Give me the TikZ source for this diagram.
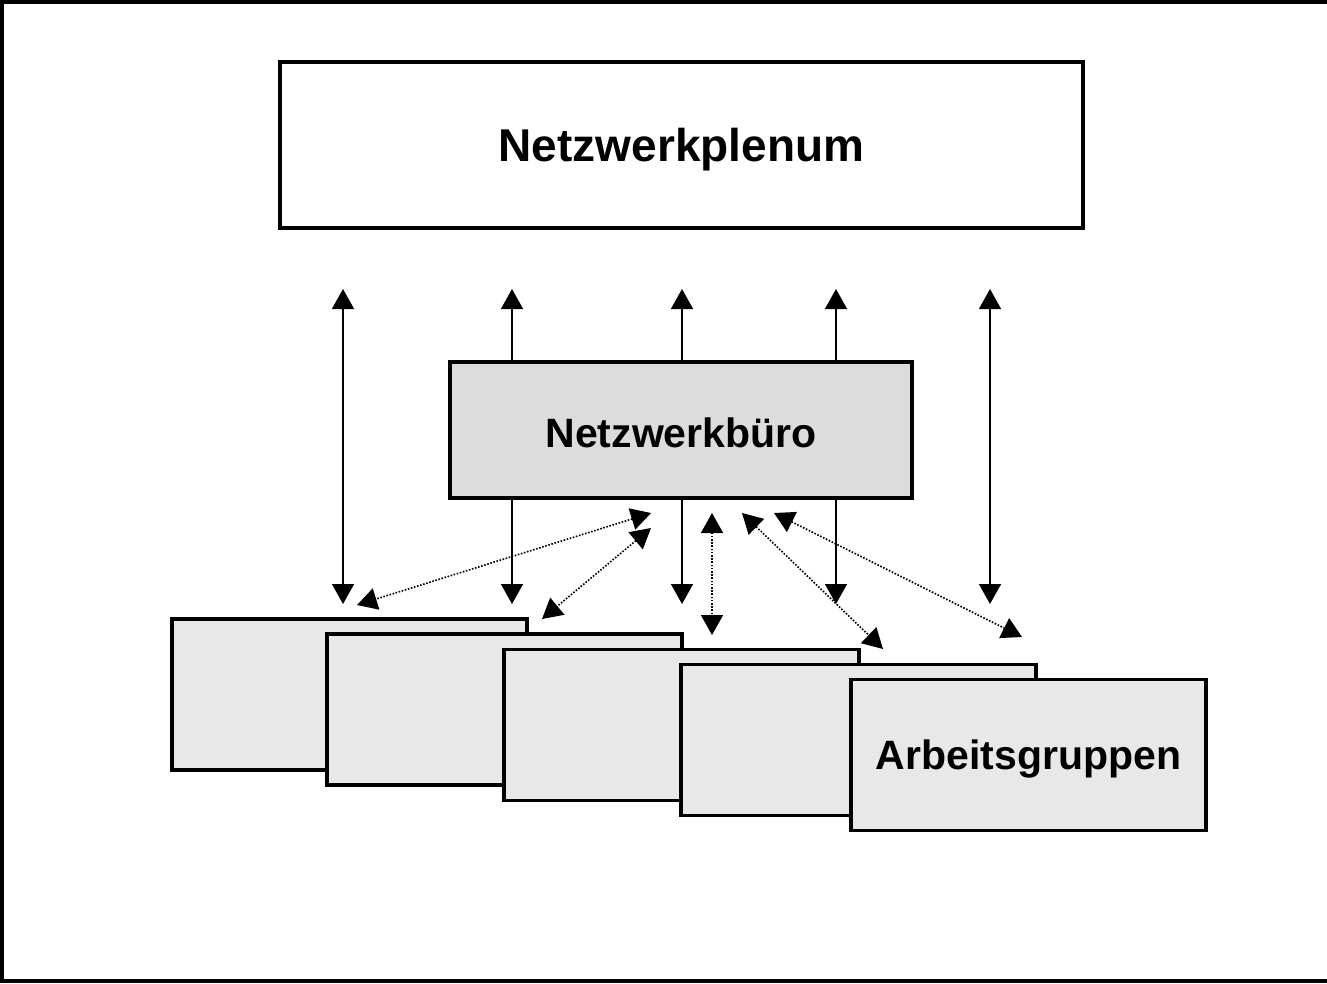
\documentclass[tikz,border=0pt]{standalone}
\usepackage{fontspec}
\setmainfont{Liberation Sans}
\usetikzlibrary{arrows.meta}
\definecolor{buerofill}{HTML}{DCDCDC}
\definecolor{agfill}{HTML}{E8E8E8}
\newcommand{\lowertext}[2]{\raisebox{-#1}[\height][\depth]{#2}}
\tikzset{
  box/.style={draw=black, line width=3.4pt, inner sep=0pt, outer sep=0pt},
  agbox/.style={box, fill=agfill, minimum width=355pt, minimum height=151pt},
  tip/.tip={Triangle[length=20pt,width=22pt]},
  solidarrow/.style={line width=1.5pt, -tip},
  solidboth/.style={line width=1.5pt, tip-tip},
  dotboth/.style={line width=1.6pt, dash pattern=on 1.6pt off 1.6pt, tip-tip},
  frame/.style={line width=4.5pt}
}
\begin{document}
\begin{tikzpicture}[x=1pt,y=-1pt]
\useasboundingbox (0,0) rectangle (1327,983);
% outer frame (no right side visible)
\draw[frame] (1330,2) -- (2,2) -- (2,981) -- (1330,981);

% top box
\node[box, fill=white, minimum width=803pt, minimum height=166pt] (plenum) at (681.5,145)
  {\lowertext{5pt}{\fontsize{46}{50}\selectfont\bfseries Netzwerkplenum}};

% middle box
\node[box, fill=buerofill, minimum width=462pt, minimum height=136pt] (buero) at (681,430)
  {\lowertext{3pt}{\fontsize{41}{45}\selectfont\bfseries Netzwerkb\"uro}};

% working groups (back to front)
\node[agbox] (ag1) at (349.5,694.5) {};
\node[agbox] (ag2) at (504.5,709.5) {};
\node[agbox] (ag3) at (681.5,725) {};
\node[agbox] (ag4) at (858.5,740) {};
\node[agbox] (ag5) at (1028.5,755) {\lowertext{4pt}{\fontsize{41}{45}\selectfont\bfseries Arbeitsgruppen}};

% free ends of the solid arrows
\coordinate (t1) at (343,289);
\coordinate (b1) at (343,604);
\coordinate (t2) at (512,289);
\coordinate (b2) at (512,604);
\coordinate (t3) at (682,289);
\coordinate (b3) at (682,604);
\coordinate (t4) at (836,289);
\coordinate (b4) at (836,604);
\coordinate (t5) at (990,289);
\coordinate (b5) at (990,604);

\draw[solidboth] (t1) -- (b1);
\draw[solidboth] (t5) -- (b5);
\foreach \i in {2,3,4}{
  \draw[solidarrow] (buero.north -| t\i) -- (t\i);
  \draw[solidarrow] (buero.south -| b\i) -- (b\i);
}

% free ends of the dotted arrows
\coordinate (d1a) at (651,513);
\coordinate (d1b) at (357,605);
\coordinate (d2a) at (651,528);
\coordinate (d2b) at (542,619);
\coordinate (d3a) at (712,513);
\coordinate (d3b) at (712,635);
\coordinate (d4a) at (742,513);
\coordinate (d4b) at (883,649);
\coordinate (d5a) at (774,513);
\coordinate (d5b) at (1022,637);

\draw[dotboth] (d1a) -- (d1b);
\draw[dotboth] (d2a) -- (d2b);
\draw[dotboth] (d3a) -- (d3b);
\draw[dotboth] (d4a) -- (d4b);
\draw[dotboth] (d5a) -- (d5b);
\end{tikzpicture}
\end{document}
